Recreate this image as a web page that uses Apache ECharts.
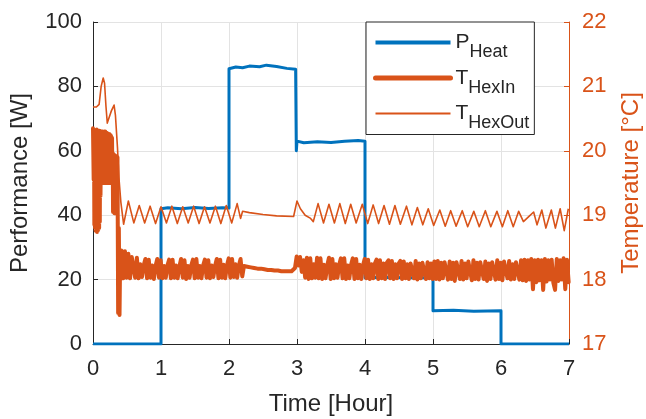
<!DOCTYPE html>
<html><head><meta charset="utf-8">
<script src="https://cdn.jsdelivr.net/npm/echarts@6/dist/echarts.min.js"></script>
<style>html,body{margin:0;padding:0;background:#fff}#c{width:646px;height:419px}</style>
</head><body><div id="c"></div>
<script>
// ---- data ----
const xLabel = 'Time [Hour]';
const yLeftLabel = 'Performance [W]';
const yRightLabel = 'Temperature [°C]';
const legendMain = ['P', 'T', 'T'];
const legendSub = ['Heat', 'HexIn', 'HexOut'];
const seriesNames = ['PHeat', 'THexIn', 'THexOut'];

// P_Heat [hour, W]
const pHeat = [
  [0,0],[1,0],[1,42],[1.1,42.3],[1.3,42.0],[1.5,42.4],[1.7,42.1],[1.9,42.3],[2,42.2],
  [2,85.5],[2.1,86.0],[2.2,85.8],[2.3,86.3],[2.45,86.1],[2.55,86.6],[2.7,86.2],[2.85,85.6],[2.98,85.3],
  [2.99,60],[3.0,63],[3.1,62.5],[3.3,62.8],[3.5,62.6],[3.7,63.0],[3.9,63.2],[4,63],
  [4,20.6],[4.3,20.7],[4.6,20.6],[5,20.6],
  [5,10.3],[5.3,10.5],[5.6,10.2],[6,10.3],
  [6,0],[7,0]
];

// T_HexIn start-up part [hour, °C]
const hexInEarly = [
  [0,20.35],[0.01,19.55],[0.015,20.32],[0.02,18.85],[0.025,20.3],[0.03,18.8],[0.035,20.32],[0.04,18.76],
  [0.045,20.3],[0.05,18.75],[0.055,20.33],[0.06,18.74],[0.065,20.3],[0.07,18.76],[0.075,20.31],[0.08,18.78],
  [0.085,20.3],[0.09,18.8],[0.095,20.31],[0.10,18.9],[0.105,20.3],[0.11,19.3],[0.12,20.3],[0.125,19.52],
  [0.13,20.3],[0.135,19.5],[0.14,20.3],[0.145,19.52],[0.15,20.29],[0.155,19.5],[0.16,20.29],[0.165,19.52],
  [0.17,20.3],[0.175,19.5],[0.18,20.3],[0.185,19.52],[0.19,20.28],[0.195,19.5],[0.20,20.28],[0.205,19.52],
  [0.21,20.27],[0.215,19.5],[0.22,20.27],[0.225,19.52],[0.23,20.26],[0.235,19.5],[0.24,20.26],[0.245,19.52],
  [0.25,20.25],[0.255,19.5],[0.26,20.24],[0.265,19.52],[0.27,20.22],[0.275,19.5],[0.28,20.2],[0.285,19.52],
  [0.29,19.95],[0.295,19.05],[0.30,19.95],[0.305,19.05],[0.31,19.94],[0.315,19.03],[0.32,19.93],[0.325,19.03],
  [0.33,19.92],[0.335,19.05],[0.34,19.92],[0.345,19.04],[0.35,19.9],[0.355,19.05],[0.36,19.9],
  [0.37,17.48],[0.38,18.8],[0.39,17.45],[0.40,18.4]
];
// T_HexIn logged samples from 0.42 h, every 0.025 h [°C]
const hexInBandStart = 0.42;
const hexInBandStep = 0.025;
const hexInBand = [
  18.45,18.02,18.44,18.03,18.40,18.02,18.35,
  18.36,18.03,18.34,18.02,18.24,18.04,18.22,
  18.32,18.02,18.31,18.03,18.22,18.01,18.21,
  18.32,18.03,18.30,18.02,18.21,18.03,18.22,
  18.31,18.02,18.31,18.03,18.22,18.02,18.20,
  18.32,18.03,18.30,18.01,18.21,18.03,18.22,
  18.31,18.02,18.32,18.03,18.21,18.02,18.22,
  18.31,18.03,18.30,18.02,18.22,18.04,18.21,
  18.32,18.02,18.31,18.03,18.23,18.02,18.22,
  18.33,18.03,18.32,18.04,18.24,18.03,18.22,
  18.32,18.05,
  18.21,18.18,18.20,18.17,18.19,18.16,18.18,18.16,18.17,18.15,
  18.17,18.14,18.16,18.14,18.15,18.13,18.15,18.13,18.14,18.12,
  18.14,18.12,18.13,18.12,18.13,18.11,18.13,18.12,18.13,18.14,
  18.18,18.36,18.22,18.35,18.12,18.30,
  18.03,18.34,18.01,18.33,18.02,18.24,18.03,
  18.34,18.02,18.33,18.01,18.23,18.02,18.22,
  18.34,18.01,18.32,18.02,18.24,18.03,18.23,
  18.33,18.02,18.33,18.01,18.22,18.02,18.23,
  18.33,18.01,18.32,18.02,18.23,18.01,18.22,
  18.32,18.02,18.31,18.01,18.24,18.02,18.25,
  18.31,18.01,18.30,18.02,18.25,18.01,18.26,
  18.30,18.02,18.29,18.01,18.24,18.02,18.25,
  18.29,18.01,18.28,18.02,18.24,18.01,18.25,
  18.28,18.02,18.29,18.00,18.25,18.02,18.26,
  18.28,18.01,18.27,18.02,18.25,18.01,
  18.28,18.01,18.29,18.00,18.26,18.02,18.27,
  18.29,18.00,18.28,18.01,18.26,17.98,18.27,
  18.30,18.01,18.29,18.00,18.25,18.02,18.28,
  18.29,17.99,18.30,18.01,18.26,18.00,18.27,
  18.30,18.01,18.28,17.98,18.25,18.01,18.27,
  18.29,18.00,18.30,18.01,18.26,17.99,18.28,
  18.30,18.02,18.29,18.00,18.24,18.01,18.27,
  18.29,18.00,18.30,
  17.99,18.31,17.98,18.30,18.00,18.32,17.85,18.30,17.96,18.31,
  17.99,18.30,17.84,18.32,17.97,18.30,18.00,18.31,17.95,17.84,
  18.32,17.98,18.30,18.00,18.33,17.85,18.31,17.96
];

// T_HexOut [hour, °C]
const hexOut = [
  [0,20.68],[0.05,20.68],[0.09,20.72],[0.12,21.0],[0.15,21.13],[0.17,21.05],[0.19,20.7],[0.21,20.43],
  [0.23,20.45],[0.27,20.62],[0.31,20.71],[0.33,20.55],[0.36,20.05],[0.38,19.6],[0.41,19.2],
  [0.45,18.86],[0.52,19.22],[0.60,18.88],[0.68,19.15],[0.76,18.88],[0.84,19.14],[0.92,18.87],[1.00,19.13],
  [1.08,18.88],[1.16,19.14],[1.24,18.87],[1.32,19.13],[1.40,18.88],[1.48,19.14],[1.56,18.87],[1.64,19.13],
  [1.72,18.88],[1.80,19.14],[1.88,18.87],[1.96,19.15],[2.04,18.88],[2.12,19.18],[2.17,18.95],[2.20,19.06],
  [2.3,19.04],[2.5,19.01],[2.7,18.99],[2.95,18.98],[3.0,19.22],[3.05,19.1],[3.12,19.0],[3.2,18.95],
  [3.24,18.9],[3.31,19.18],[3.39,18.88],[3.47,19.17],[3.55,18.88],[3.63,19.18],[3.71,18.87],[3.79,19.17],
  [3.87,18.88],[3.96,19.17],[4.04,18.87],[4.12,19.16],[4.20,18.87],[4.28,19.15],[4.36,18.86],[4.44,19.15],
  [4.52,18.86],[4.61,19.14],[4.69,18.85],[4.77,19.12],[4.85,18.85],[4.93,19.1],[5.01,18.84],[5.10,19.08],
  [5.18,18.83],[5.26,19.07],[5.34,18.83],[5.43,19.07],[5.51,18.82],[5.60,19.06],[5.68,18.82],[5.77,19.07],
  [5.85,18.82],[5.94,19.06],[6.02,18.82],[6.10,19.07],[6.18,18.82],[6.26,19.06],[6.33,18.9],[6.40,18.97],
  [6.48,19.05],[6.53,18.85],[6.60,19.08],[6.66,18.8],[6.74,19.08],[6.80,18.8],[6.87,19.1],[6.93,18.76],[6.99,19.1]
];

// ---- chart ----
const FONT = "'Liberation Sans', Arial, Helvetica, sans-serif";
const BLUE = '#0072BD', ORANGE = '#D95319', DARK = '#262626', GRID = '#e3e3e3';
const hexInData = hexInEarly.concat(hexInBand.map((v, i) => [+(hexInBandStart + i * hexInBandStep).toFixed(3), v]));
const legendWidths = [4, 5, 1.8];

const chart = echarts.init(document.getElementById('c'), null, {renderer: 'canvas'});
chart.setOption({
  animation: false,
  backgroundColor: '#fff',
  textStyle: {fontFamily: FONT},
  grid: {left: 93, right: 77, top: 22, bottom: 75, outerBoundsMode: 'none', containLabel: false},
  legend: {
    orient: 'vertical', left: 366, top: 22,
    data: seriesNames.map((n, k) => ({name: n, lineStyle: {width: legendWidths[k]}})),
    backgroundColor: '#fff', borderColor: DARK, borderWidth: 1, borderRadius: 0,
    padding: [10, 5, 2, 7], itemWidth: 75, itemHeight: 12, itemGap: 6,
    itemStyle: {opacity: 0},
    formatter: name => { const k = seriesNames.indexOf(name); return '{m|' + legendMain[k] + '}{s|' + legendSub[k] + '}'; },
    textStyle: {color: DARK, fontFamily: FONT,
      rich: {m: {fontSize: 21, fontFamily: FONT, color: DARK}, s: {fontSize: 18, fontFamily: FONT, color: DARK, padding: [20, 0, 0, 0]}}}
  },
  xAxis: {
    type: 'value', min: 0, max: 7, interval: 1,
    name: xLabel, nameLocation: 'middle', nameGap: 48,
    nameTextStyle: {fontSize: 24, color: DARK, fontFamily: FONT},
    axisLine: {show: true, lineStyle: {color: DARK, width: 1}},
    axisTick: {show: true, inside: true, length: 5, lineStyle: {color: DARK}},
    axisLabel: {fontSize: 22, color: DARK, margin: 14, fontFamily: FONT},
    splitLine: {show: true, lineStyle: {color: GRID, width: 1}}
  },
  yAxis: [{
    type: 'value', min: 0, max: 100, interval: 20, position: 'left',
    name: yLeftLabel, nameLocation: 'middle', nameGap: 61, nameRotate: 90,
    nameTextStyle: {fontSize: 24, color: DARK, fontFamily: FONT},
    axisLine: {show: true, lineStyle: {color: DARK, width: 1}},
    axisTick: {show: true, inside: true, length: 5, lineStyle: {color: DARK}},
    axisLabel: {fontSize: 22, color: DARK, margin: 11, fontFamily: FONT},
    splitLine: {show: true, lineStyle: {color: GRID, width: 1}}
  }, {
    type: 'value', min: 17, max: 22, interval: 1, position: 'right',
    name: yRightLabel, nameLocation: 'middle', nameGap: 50, nameRotate: 90,
    nameTextStyle: {fontSize: 24, color: ORANGE, fontFamily: FONT},
    axisLine: {show: true, lineStyle: {color: ORANGE, width: 1}},
    axisTick: {show: true, inside: true, length: 5, lineStyle: {color: ORANGE}},
    axisLabel: {fontSize: 22, color: ORANGE, margin: 13, fontFamily: FONT},
    splitLine: {show: false}
  }],
  series: [{
    name: seriesNames[0], type: 'line', yAxisIndex: 0, data: pHeat,
    symbol: 'none', showSymbol: false, z: 2,
    lineStyle: {color: BLUE, width: 3, join: 'round'}, itemStyle: {color: BLUE}
  }, {
    name: seriesNames[1], type: 'line', yAxisIndex: 1, data: hexInData,
    symbol: 'none', showSymbol: false, z: 3,
    lineStyle: {color: ORANGE, width: 4, join: 'round', cap: 'round'}, itemStyle: {color: ORANGE}
  }, {
    name: seriesNames[2], type: 'line', yAxisIndex: 1, data: hexOut,
    symbol: 'none', showSymbol: false, z: 4,
    lineStyle: {color: ORANGE, width: 1.6, join: 'round'}, itemStyle: {color: ORANGE}
  }]
});
</script></body></html>
